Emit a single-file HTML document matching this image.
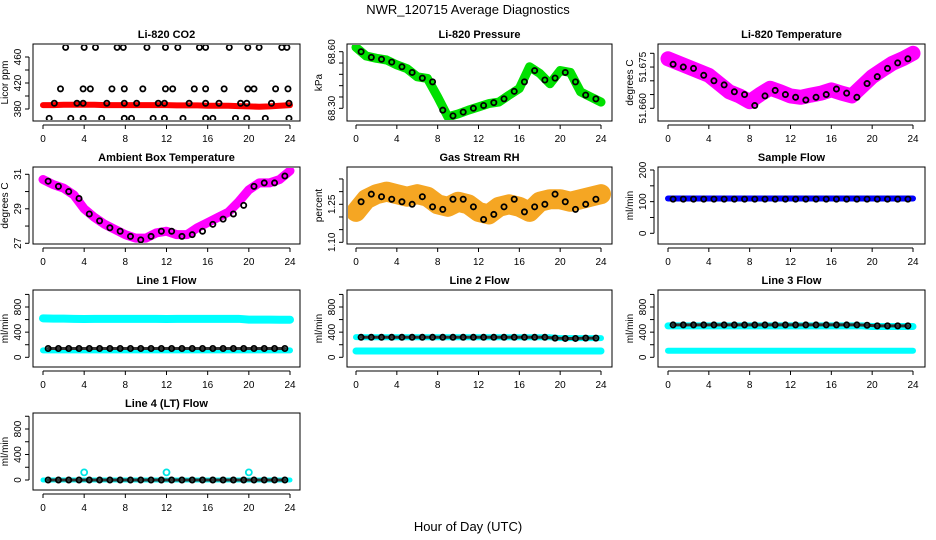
<!DOCTYPE html>
<html><head><meta charset="utf-8"><style>
body{margin:0;background:#fff;}
svg{display:block;font-family:"Liberation Sans",Arial,sans-serif;}
</style></head><body>
<svg id="chart" width="936" height="540" viewBox="0 0 936 540">
<text x="468" y="14" text-anchor="middle" font-size="13">NWR_120715  Average Diagnostics</text>
<text x="468" y="531" text-anchor="middle" font-size="13">Hour of Day (UTC)</text>
</svg>
<script>
// ---- data ----
const hours = [0,1,2,3,4,5,6,7,8,9,10,11,12,13,14,15,16,17,18,19,20,21,22,23,24];
const halfHours = [0.5,1.5,2.5,3.5,4.5,5.5,6.5,7.5,8.5,9.5,10.5,11.5,12.5,13.5,14.5,15.5,16.5,17.5,18.5,19.5,20.5,21.5,22.5,23.5];
const xTicks = [0,4,8,12,16,20,24];

const co2Red = [386,386,386.5,386.5,386.5,386.5,386,386,386,386,386,386,386,385.5,385.5,385.5,385,385,385,384.5,384,383.5,384,385,386];
const co2TopH = [2.2,4.0,5.1,7.2,7.8,10.1,11.9,13.1,15.2,15.8,18.1,19.9,21.0,23.2,23.7];
const co2MidH = [1.7,3.9,4.6,6.7,7.9,9.7,11.9,12.6,14.7,15.8,17.6,19.9,20.5,22.6,23.8];
const co2LowH = [1.1,3.3,3.9,6.2,7.9,9.1,11.2,11.8,14.2,15.8,17.1,19.2,19.8,22.2,23.9];
const co2BotH = [0.6,2.7,3.9,5.7,7.9,8.6,10.7,11.8,13.6,15.8,16.5,18.7,19.8,21.6,23.9];
const co2Levels = [474.8,411,388.8,365.6];

const pressGreen = [68.623,68.577,68.565,68.556,68.53,68.51,68.467,68.458,68.36,68.255,68.27,68.29,68.307,68.325,68.333,68.37,68.405,68.52,68.485,68.43,68.50,68.49,68.387,68.36,68.333];
const pressBlack = [68.60,68.57,68.56,68.545,68.52,68.49,68.46,68.44,68.29,68.26,68.28,68.30,68.315,68.33,68.35,68.39,68.44,68.50,68.45,68.46,68.49,68.44,68.37,68.35];

const tempMag = [51.678,51.6765,51.675,51.6735,51.672,51.669,51.666,51.6645,51.6624,51.665,51.6673,51.666,51.6645,51.664,51.6648,51.6655,51.6667,51.6655,51.6645,51.668,51.6715,51.674,51.6764,51.678,51.680];
const tempBlack = [51.676,51.675,51.6745,51.672,51.670,51.6685,51.666,51.665,51.661,51.6645,51.6665,51.665,51.664,51.663,51.664,51.665,51.667,51.6655,51.664,51.669,51.6715,51.6745,51.6765,51.678];

const ambMag = [30.7,30.4,30.2,29.8,29.0,28.5,28.1,27.8,27.5,27.3,27.3,27.6,27.7,27.5,27.5,27.9,28.2,28.5,28.8,29.4,30.1,30.5,30.5,30.7,31.2];
const ambBlack = [30.6,30.3,30.0,29.6,28.7,28.3,27.9,27.7,27.4,27.2,27.4,27.7,27.7,27.4,27.5,27.7,28.1,28.4,28.7,29.2,30.3,30.5,30.5,30.9];

const rhOrange = [1.22,1.27,1.29,1.30,1.29,1.28,1.29,1.28,1.25,1.24,1.26,1.25,1.22,1.21,1.24,1.25,1.24,1.22,1.26,1.27,1.27,1.26,1.27,1.28,1.29];
const rhBlack = [1.26,1.29,1.28,1.27,1.26,1.25,1.28,1.24,1.23,1.27,1.27,1.24,1.19,1.21,1.24,1.27,1.22,1.24,1.25,1.29,1.26,1.23,1.25,1.27];

const sampleBlue = [110,110,110,110,110,110,110,110,110,110,110,110,110,110,110,110,110,110,110,110,110,110,110,110,110];
const sampleBlack = [108,108,108,108,108,108,108,108,108,108,108,108,108,108,108,108,108,108,108,108,108,108,108,108];

const l1CyanHigh = [620,615,615,612,610,612,612,612,612,612,612,612,610,612,612,612,612,612,612,612,600,600,600,598,598];
const l1CyanLow = [110,110,110,110,110,110,110,110,110,110,110,110,110,110,110,110,110,110,110,110,110,110,110,110,110];
const l1Black = [140,140,140,140,140,140,140,140,140,140,140,140,140,140,140,140,140,140,140,140,140,140,140,140];

const l2CyanHigh = [320,318,318,318,318,318,318,318,318,318,318,318,318,318,318,318,318,318,318,318,305,305,305,305,305];
const l2CyanLow = [100,100,100,100,100,100,100,100,100,100,100,100,100,100,100,100,100,100,100,100,100,100,100,100,100];
const l2Black = [318,318,318,318,318,318,318,318,318,318,318,318,318,318,318,318,318,318,318,305,300,300,305,305];

const l3CyanHigh = [500,500,500,500,500,500,500,500,500,500,500,500,500,500,500,500,500,500,500,500,490,490,490,490,490];
const l3CyanLow = [105,105,105,105,105,105,105,105,105,105,105,105,105,105,105,105,105,105,105,105,105,105,105,105,105];
const l3Black = [515,515,515,515,515,515,515,515,515,515,515,515,515,515,515,515,515,515,515,510,500,500,500,500];

const l4Cyan = [0,0,0,0,0,0,0,0,0,0,0,0,0,0,0,0,0,0,0,0,0,0,0,0,0];
const l4Black = [0,0,0,0,0,0,0,0,0,0,0,0,0,0,0,0,0,0,0,0,0,0,0,0];
const l4OutH = [4,12,20];
const l4Out = [120,120,120];

const co2Ticks = [380,400,420,440,460], co2Labels = ["380","","420","","460"];
const pressTicks = [68.30,68.36,68.42,68.48,68.54,68.60], pressLabels = ["68.30","","","","","68.60"];
const tempTicks = [51.660,51.665,51.670,51.675,51.680], tempLabels = ["51.660","","","51.675",""];
const ambTicks = [27,28,29,30,31], ambLabels = ["27","","29","","31"];
const rhTicks = [1.10,1.15,1.20,1.25,1.30,1.35], rhLabels = ["1.10","","","1.25","",""];
const sampTicks = [0,50,100,150,200], sampLabels = ["0","","100","","200"];
const flowTicks = [0,200,400,600,800,1000], flowLabels = ["0","","400","","800",""];

// ---- rendering ----
const NS = "http://www.w3.org/2000/svg";
const svg = document.getElementById('chart');
const cols = [{l:33,r:300,h0:43,h24:290},{l:347,r:612,h0:356,h24:601},{l:658,r:925,h0:668,h24:913}];
const rowTops = [44,167,290,413];
const H = 77;
function mk(tag, attrs, parent){const e=document.createElementNS(NS,tag);for(const k in attrs)e.setAttribute(k,attrs[k]);(parent||svg).appendChild(e);return e;}

function panel(name,title,col,row,ytitle,v1,p1,v2,p2,ticks,labels){
  const c=cols[col], top=rowTops[row];
  const g=mk('g',{});
  
  
  const xs=h=>c.h0+(c.h24-c.h0)*h/24;
  const ys=v=>top+p1+(v-v1)*(p2-p1)/(v2-v1);
  const t=mk('text',{x:(c.l+c.r)/2,y:top-6,'text-anchor':'middle','font-size':11,'font-weight':'bold'},g);
  t.textContent=title;
  
  
  const clipId='clip-'+name;
  const cp=mk('clipPath',{id:clipId},g);mk('rect',{x:c.l+1,y:top+1,width:c.r-c.l-2,height:H-2},cp);
  const plot=mk('g',{'clip-path':`url(#${clipId})`},g);
  const box=mk('rect',{x:c.l,y:top,width:c.r-c.l,height:H,fill:'none',stroke:'#000','stroke-width':1},g);
  
  
  const xa=mk('g',{},g);
  
  
  mk('line',{x1:xs(0),x2:xs(24),y1:top+H+4,y2:top+H+4,stroke:'#000'},xa);
  xTicks.forEach(h=>{
    mk('line',{x1:xs(h),x2:xs(h),y1:top+H+4,y2:top+H+8,stroke:'#000'},xa);
    const tl=mk('text',{x:xs(h),y:top+H+21,'text-anchor':'middle','font-size':10},xa);tl.textContent=h;
  });
  const ya=mk('g',{},g);
  
  
  const yt=ticks.map(ys).filter(y=>y>=top-1&&y<=top+H+1);
  mk('line',{x1:c.l-4,x2:c.l-4,y1:Math.min(...yt),y2:Math.max(...yt),stroke:'#000'},ya);
  ticks.forEach((v,i)=>{
    const y=ys(v); if(y<top-1||y>top+H+1) return;
    mk('line',{x1:c.l-8,x2:c.l-4,y1:y,y2:y,stroke:'#000'},ya);
    if(labels[i]){const tl=mk('text',{x:0,y:0,'text-anchor':'middle','font-size':10,transform:`translate(${c.l-12},${y}) rotate(-90)`},ya);tl.textContent=labels[i];}
  });
  const ytl=mk('text',{x:0,y:0,'text-anchor':'middle','font-size':10,transform:`translate(${c.l-25},${top+H/2}) rotate(-90)`},ya);
  ytl.textContent=ytitle;
  
  
  return {xs,ys,plot,name};
}
function band(P,hs,vs,color,w,nm){
  const pts=hs.map((h,i)=>P.xs(h)+','+P.ys(vs[i])).join(' ');
  const pl=mk('polyline',{points:pts,fill:'none',stroke:color,'stroke-width':w,'stroke-linejoin':'round','stroke-linecap':'round'},P.plot);
  
  
}
function circles(P,hs,vs,color,nm,r){
  const g=mk('g',{},P.plot);
  
  
  hs.forEach((h,i)=>{
    const c=mk('circle',{cx:P.xs(h),cy:P.ys(vs[i]),r:r||2.6,fill:'none',stroke:color,'stroke-width':1.8},g);
    
    
  });
}

// CO2
let P=panel('co2','Li-820 CO2',0,0,'Licor ppm',380,65,460,13,co2Ticks,co2Labels);
band(P,hours,co2Red,'#ff0000',6,'co2-red-series');
[co2TopH,co2MidH,co2LowH,co2BotH].forEach((hs,k)=>circles(P,hs,hs.map(()=>co2Levels[k]),'#000','co2-black-series-'+k));

// Pressure
P=panel('pressure','Li-820 Pressure',1,0,'kPa',68.60,7.7,68.30,64.3,pressTicks,pressLabels);
band(P,hours,pressGreen,'#00e000',9,'pressure-green-series');
circles(P,halfHours,pressBlack,'#000','pressure-black-series');

// Temperature
P=panel('temperature','Li-820 Temperature',2,0,'degrees C',51.680,9.3,51.660,64.3,tempTicks,tempLabels);
band(P,hours,tempMag,'#ff00ff',15,'temperature-magenta-series');
circles(P,halfHours,tempBlack,'#000','temperature-black-series');

// Ambient
P=panel('ambient','Ambient Box Temperature',0,1,'degrees C',31,7.3,27,76.3,ambTicks,ambLabels);
band(P,hours,ambMag,'#ff00ff',9,'ambient-magenta-series');
circles(P,halfHours,ambBlack,'#000','ambient-black-series');

// RH
P=panel('rh','Gas Stream RH',1,1,'percent',1.25,37.3,1.10,75.3,rhTicks,rhLabels);
band(P,hours,rhOrange,'#f5a623',20,'rh-orange-series');
circles(P,halfHours,rhBlack,'#000','rh-black-series');

// Sample flow
P=panel('sample-flow','Sample Flow',2,1,'ml/min',200,3,0,66.3,sampTicks,sampLabels);
band(P,hours,sampleBlue,'#0000ff',6,'sample-flow-blue-series');
circles(P,halfHours,sampleBlack,'#000','sample-flow-black-series');

// Line flows
P=panel('line1-flow','Line 1 Flow',0,2,'ml/min',800,17,0,67.3,flowTicks,flowLabels);
band(P,hours,l1CyanHigh,'#00ffff',8,'line1-cyan-high');
band(P,hours,l1CyanLow,'#00ffff',6,'line1-cyan-low');
band(P,halfHours,l1Black,'#333',3,'line1-black-line');
circles(P,halfHours,l1Black,'#000','line1-black-series');

P=panel('line2-flow','Line 2 Flow',1,2,'ml/min',800,17,0,67.3,flowTicks,flowLabels);
band(P,hours,l2CyanHigh,'#00ffff',6,'line2-cyan-high');
band(P,hours,l2CyanLow,'#00ffff',7,'line2-cyan-low');
band(P,halfHours,l2Black,'#333',3,'line2-black-line');
circles(P,halfHours,l2Black,'#000','line2-black-series');

P=panel('line3-flow','Line 3 Flow',2,2,'ml/min',800,17,0,67.3,flowTicks,flowLabels);
band(P,hours,l3CyanHigh,'#00ffff',7,'line3-cyan-high');
band(P,hours,l3CyanLow,'#00ffff',6,'line3-cyan-low');
band(P,halfHours,l3Black,'#333',3,'line3-black-line');
circles(P,halfHours,l3Black,'#000','line3-black-series');

P=panel('line4-flow','Line 4 (LT) Flow',0,3,'ml/min',800,16,0,67,flowTicks,flowLabels);
band(P,hours,l4Cyan,'#00ffff',5,'line4-cyan-series');
band(P,halfHours,l4Black,'#333',3,'line4-black-line');
circles(P,halfHours,l4Black,'#000','line4-black-series');
circles(P,l4OutH,l4Out,'#00e5e5','line4-cyan-outliers',3);
</script>
</body></html>
